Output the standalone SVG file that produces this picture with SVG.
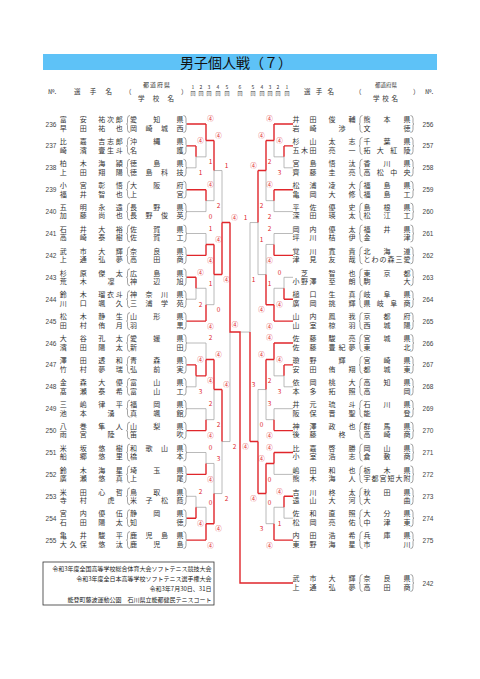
<svg xmlns="http://www.w3.org/2000/svg" xmlns:xlink="http://www.w3.org/1999/xlink" width="480" height="679" viewBox="0 0 480 679">
<style>
text{font-family:"Noto Sans CJK JP","Noto Sans",sans-serif}
.t{font-size:7px;fill:#333}
.m{text-anchor:middle}
.h{font-size:6.5px;fill:#333}
.d{font-size:5px;fill:#333;text-anchor:middle}
.no{font-family:"Liberation Sans",Arial,sans-serif;font-size:6.5px;fill:#444;text-anchor:middle}
.s{font-size:6.5px;fill:#e0262b;text-anchor:middle}
.r{stroke:#e0262b;stroke-width:1.4;fill:none}
.g{stroke:#a8a8a8;stroke-width:0.8;fill:none}
.br{stroke:#666;stroke-width:0.6;fill:none}
.f{font-size:6px;fill:#222;text-anchor:end}
</style>
<defs>
<path id="bL1" class="br" d="M130,-8.5 Q127.5,-8.5 127.5,-5.5 L127.5,-1.5 Q127.5,0 126.5,0 Q127.5,0 127.5,1.5 L127.5,5.5 Q127.5,8.5 130,8.5"/>
<path id="bL2" class="br" d="M183.5,-8.5 Q186,-8.5 186,-5.5 L186,-1.5 Q186,0 187,0 Q186,0 186,1.5 L186,5.5 Q186,8.5 183.5,8.5"/>
<path id="bR1" class="br" d="M362.5,-8.5 Q360,-8.5 360,-5.5 L360,-1.5 Q360,0 359,0 Q360,0 360,1.5 L360,5.5 Q360,8.5 362.5,8.5"/>
<path id="bR2" class="br" d="M410.5,-8.5 Q413,-8.5 413,-5.5 L413,-1.5 Q413,0 414,0 Q413,0 413,1.5 L413,5.5 Q413,8.5 410.5,8.5"/>
</defs>
<rect width="480" height="679" fill="#fff"/>
<g id="title">
<rect x="43" y="54" width="394" height="16" fill="#5ec2f7"/>
<text x="236" y="67.5" class="m" style="font-size:14px;fill:#111">男子個人戦（７）</text>
</g>
<g id="header">
<text class="h" x="48" y="94">№.</text>
<text class="h" x="74" y="94" textLength="38" lengthAdjust="spacing">選手名</text>
<text class="h" x="125" y="94">（</text>
<text class="h" x="143" y="87" textLength="27" lengthAdjust="spacing" style="font-size:6px">都道府県</text>
<text class="h" x="138" y="100.5" textLength="36" lengthAdjust="spacing">学校名</text>
<text class="h" x="181" y="94">）</text>
<text class="d" x="193" y="89">1</text><text class="d" x="193" y="95">回</text>
<text class="d" x="201" y="89">2</text><text class="d" x="201" y="95">回</text>
<text class="d" x="209" y="89">3</text><text class="d" x="209" y="95">回</text>
<text class="d" x="218" y="89">4</text><text class="d" x="218" y="95">回</text>
<text class="d" x="227" y="89">5</text><text class="d" x="227" y="95">回</text>
<text class="d" x="240" y="89">6</text><text class="d" x="240" y="95">回</text>
<text class="d" x="253" y="89">5</text><text class="d" x="253" y="95">回</text>
<text class="d" x="262" y="89">4</text><text class="d" x="262" y="95">回</text>
<text class="d" x="270" y="89">3</text><text class="d" x="270" y="95">回</text>
<text class="d" x="278" y="89">2</text><text class="d" x="278" y="95">回</text>
<text class="d" x="287" y="89">1</text><text class="d" x="287" y="95">回</text>
<text class="h" x="304" y="94" textLength="30" lengthAdjust="spacing">選手名</text>
<text class="h" x="355" y="94">（</text>
<text class="h" x="375" y="87" textLength="22" lengthAdjust="spacing" style="font-size:5.5px">都道府県</text>
<text class="h" x="373" y="100.5" textLength="25" lengthAdjust="spacing">学校名</text>
<text class="h" x="413" y="94">）</text>
<text class="h" x="425" y="94">№.</text>
</g>

<g id="p236" transform="translate(0,124)"><text class="no" x="51" y="2.5">236</text>
<text class="t" x="59.8" y="-1.8" textLength="27">富安</text><text class="t" x="98.2" y="-1.8" textLength="24.6">祐次郎</text>
<text class="t" x="59.8" y="6.8" textLength="27">早田</text><text class="t" x="98.2" y="6.8" textLength="24.6">祐也</text>
<use xlink:href="#bL1"/><use xlink:href="#bL2"/>
<text class="t" x="130" y="-1.8" textLength="53.5">愛知県</text><text class="t" x="130" y="6.8" textLength="53.5">岡崎城西</text></g>

<g id="p237" transform="translate(0,145.9)"><text class="no" x="51" y="2.5">237</text>
<text class="t" x="59.8" y="-1.8" textLength="27">比嘉</text><text class="t" x="98.2" y="-1.8" textLength="24.6">吉志郎</text>
<text class="t" x="59.8" y="6.8" textLength="27">崎濱</text><text class="t" x="98.2" y="6.8" textLength="24.6">壹生斗</text>
<use xlink:href="#bL1"/><use xlink:href="#bL2"/>
<text class="t" x="130" y="-1.8" textLength="53.5">沖縄県</text><text class="t" x="130" y="6.8" textLength="53.5">名護</text></g>

<g id="p238" transform="translate(0,167.8)"><text class="no" x="51" y="2.5">238</text>
<text class="t" x="59.8" y="-1.8" textLength="27">柏木</text><text class="t" x="98.2" y="-1.8" textLength="24.6">海頴</text>
<text class="t" x="59.8" y="6.8" textLength="27">上田</text><text class="t" x="98.2" y="6.8" textLength="24.6">翔陽</text>
<use xlink:href="#bL1"/><use xlink:href="#bL2"/>
<text class="t" x="130" y="-1.8" textLength="53.5">徳島県</text><text class="t" x="130" y="6.8" textLength="53.5">徳島科技</text></g>

<g id="p239" transform="translate(0,189.7)"><text class="no" x="51" y="2.5">239</text>
<text class="t" x="59.8" y="-1.8" textLength="27">小宮</text><text class="t" x="98.2" y="-1.8" textLength="24.6">彰悟</text>
<text class="t" x="59.8" y="6.8" textLength="27">福井</text><text class="t" x="98.2" y="6.8" textLength="24.6">智也</text>
<use xlink:href="#bL1"/><use xlink:href="#bL2"/>
<text class="t" x="130" y="-1.8" textLength="53.5">大阪府</text><text class="t" x="130" y="6.8" textLength="53.5">上宮</text></g>

<g id="p240" transform="translate(0,211.6)"><text class="no" x="51" y="2.5">240</text>
<text class="t" x="59.8" y="-1.8" textLength="27">五明</text><text class="t" x="98.2" y="-1.8" textLength="24.6">永遠</text>
<text class="t" x="59.8" y="6.8" textLength="27">加藤</text><text class="t" x="98.2" y="6.8" textLength="24.6">尚也</text>
<use xlink:href="#bL1"/><use xlink:href="#bL2"/>
<text class="t" x="130" y="-1.8" textLength="53.5">長野県</text><text class="t" x="130" y="6.8" textLength="53.5">長野俊英</text></g>

<g id="p241" transform="translate(0,233.5)"><text class="no" x="51" y="2.5">241</text>
<text class="t" x="59.8" y="-1.8" textLength="27">石井</text><text class="t" x="98.2" y="-1.8" textLength="24.6">大裕</text>
<text class="t" x="59.8" y="6.8" textLength="27">高崎</text><text class="t" x="98.2" y="6.8" textLength="24.6">泰樹</text>
<use xlink:href="#bL1"/><use xlink:href="#bL2"/>
<text class="t" x="130" y="-1.8" textLength="53.5">佐賀県</text><text class="t" x="130" y="6.8" textLength="53.5">佐賀工</text></g>

<g id="p242" transform="translate(0,255.4)"><text class="no" x="51" y="2.5">242</text>
<text class="t" x="59.8" y="-1.8" textLength="27">武市</text><text class="t" x="98.2" y="-1.8" textLength="24.6">大輝</text>
<text class="t" x="59.8" y="6.8" textLength="27">上通</text><text class="t" x="98.2" y="6.8" textLength="24.6">弘夢</text>
<use xlink:href="#bL1"/><use xlink:href="#bL2"/>
<text class="t" x="130" y="-1.8" textLength="53.5">奈良県</text><text class="t" x="130" y="6.8" textLength="53.5">高田商</text></g>

<g id="p243" transform="translate(0,277.3)"><text class="no" x="51" y="2.5">243</text>
<text class="t" x="59.8" y="-1.8" textLength="27">杉原</text><text class="t" x="98.2" y="-1.8" textLength="24.6">傑太</text>
<text class="t" x="59.8" y="6.8" textLength="27">荒木</text><text class="t m" x="111" y="6.8">凜</text>
<use xlink:href="#bL1"/><use xlink:href="#bL2"/>
<text class="t" x="130" y="-1.8" textLength="53.5">広島県</text><text class="t" x="130" y="6.8" textLength="53.5">神辺旭</text></g>

<g id="p244" transform="translate(0,299.2)"><text class="no" x="51" y="2.5">244</text>
<text class="t" x="59.8" y="-1.8" textLength="27">鈴木</text><text class="t" x="98.2" y="-1.8" textLength="24.6">瑠衣斗</text>
<text class="t" x="59.8" y="6.8" textLength="27">川口</text><text class="t" x="98.2" y="6.8" textLength="24.6">颯久</text>
<use xlink:href="#bL1"/><use xlink:href="#bL2"/>
<text class="t" x="130" y="-1.8" textLength="53.5">神奈川県</text><text class="t" x="130" y="6.8" textLength="53.5">三浦学苑</text></g>

<g id="p245" transform="translate(0,321.1)"><text class="no" x="51" y="2.5">245</text>
<text class="t" x="59.8" y="-1.8" textLength="27">松木</text><text class="t" x="98.2" y="-1.8" textLength="24.6">静生</text>
<text class="t" x="59.8" y="6.8" textLength="27">田村</text><text class="t" x="98.2" y="6.8" textLength="24.6">侑月</text>
<use xlink:href="#bL1"/><use xlink:href="#bL2"/>
<text class="t" x="130" y="-1.8" textLength="53.5">山形県</text><text class="t" x="130" y="6.8" textLength="53.5">羽黒</text></g>

<g id="p246" transform="translate(0,343)"><text class="no" x="51" y="2.5">246</text>
<text class="t" x="59.8" y="-1.8" textLength="27">大谷</text><text class="t" x="98.2" y="-1.8" textLength="24.6">孔太</text>
<text class="t" x="59.8" y="6.8" textLength="27">濱田</text><text class="t" x="98.2" y="6.8" textLength="24.6">陽太</text>
<use xlink:href="#bL1"/><use xlink:href="#bL2"/>
<text class="t" x="130" y="-1.8" textLength="53.5">愛媛県</text><text class="t" x="130" y="6.8" textLength="53.5">新田</text></g>

<g id="p247" transform="translate(0,364.9)"><text class="no" x="51" y="2.5">247</text>
<text class="t" x="59.8" y="-1.8" textLength="27">澤田</text><text class="t" x="98.2" y="-1.8" textLength="24.6">透和</text>
<text class="t" x="59.8" y="6.8" textLength="27">竹村</text><text class="t" x="98.2" y="6.8" textLength="24.6">夢瑞</text>
<use xlink:href="#bL1"/><use xlink:href="#bL2"/>
<text class="t" x="130" y="-1.8" textLength="53.5">青森県</text><text class="t" x="130" y="6.8" textLength="53.5">弘前実</text></g>

<g id="p248" transform="translate(0,386.8)"><text class="no" x="51" y="2.5">248</text>
<text class="t" x="59.8" y="-1.8" textLength="27">金森</text><text class="t" x="98.2" y="-1.8" textLength="24.6">大優</text>
<text class="t" x="59.8" y="6.8" textLength="27">髙瀬</text><text class="t" x="98.2" y="6.8" textLength="24.6">泰希</text>
<use xlink:href="#bL1"/><use xlink:href="#bL2"/>
<text class="t" x="130" y="-1.8" textLength="53.5">富山県</text><text class="t" x="130" y="6.8" textLength="53.5">富山工</text></g>

<g id="p249" transform="translate(0,408.7)"><text class="no" x="51" y="2.5">249</text>
<text class="t" x="59.8" y="-1.8" textLength="27">三嶋</text><text class="t" x="98.2" y="-1.8" textLength="24.6">律平</text>
<text class="t" x="59.8" y="6.8" textLength="27">池本</text><text class="t m" x="111" y="6.8">湧</text>
<use xlink:href="#bL1"/><use xlink:href="#bL2"/>
<text class="t" x="130" y="-1.8" textLength="53.5">福岡県</text><text class="t" x="130" y="6.8" textLength="53.5">真颯館</text></g>

<g id="p250" transform="translate(0,430.6)"><text class="no" x="51" y="2.5">250</text>
<text class="t" x="59.8" y="-1.8" textLength="27">八巻</text><text class="t" x="98.2" y="-1.8" textLength="24.6">隼人</text>
<text class="t" x="59.8" y="6.8" textLength="27">雨宮</text><text class="t m" x="111" y="6.8">陸</text>
<use xlink:href="#bL1"/><use xlink:href="#bL2"/>
<text class="t" x="130" y="-1.8" textLength="53.5">山梨県</text><text class="t" x="130" y="6.8" textLength="53.5">笛吹</text></g>

<g id="p251" transform="translate(0,452.5)"><text class="no" x="51" y="2.5">251</text>
<text class="t" x="59.8" y="-1.8" textLength="27">米坂</text><text class="t" x="98.2" y="-1.8" textLength="24.6">悠樹</text>
<text class="t" x="59.8" y="6.8" textLength="27">船郷</text><text class="t" x="98.2" y="6.8" textLength="24.6">悠里</text>
<use xlink:href="#bL1"/><use xlink:href="#bL2"/>
<text class="t" x="130" y="-1.8" textLength="53.5">和歌山県</text><text class="t" x="130" y="6.8" textLength="53.5">橋本</text></g>

<g id="p252" transform="translate(0,474.4)"><text class="no" x="51" y="2.5">252</text>
<text class="t" x="59.8" y="-1.8" textLength="27">鈴木</text><text class="t" x="98.2" y="-1.8" textLength="24.6">海星</text>
<text class="t" x="59.8" y="6.8" textLength="27">廣瀬</text><text class="t" x="98.2" y="6.8" textLength="24.6">悠真</text>
<use xlink:href="#bL1"/><use xlink:href="#bL2"/>
<text class="t" x="130" y="-1.8" textLength="53.5">埼玉県</text><text class="t" x="130" y="6.8" textLength="53.5">上尾</text></g>

<g id="p253" transform="translate(0,496.3)"><text class="no" x="51" y="2.5">253</text>
<text class="t" x="59.8" y="-1.8" textLength="27">米田</text><text class="t" x="98.2" y="-1.8" textLength="24.6">心哲</text>
<text class="t" x="59.8" y="6.8" textLength="27">寺村</text><text class="t m" x="111" y="6.8">虎</text>
<use xlink:href="#bL1"/><use xlink:href="#bL2"/>
<text class="t" x="130" y="-1.8" textLength="53.5">鳥取県</text><text class="t" x="130" y="6.8" textLength="53.5">米子松蔭</text></g>

<g id="p254" transform="translate(0,518.2)"><text class="no" x="51" y="2.5">254</text>
<text class="t" x="59.8" y="-1.8" textLength="27">宮内</text><text class="t" x="98.2" y="-1.8" textLength="24.6">優伍</text>
<text class="t" x="59.8" y="6.8" textLength="27">石田</text><text class="t" x="98.2" y="6.8" textLength="24.6">陽太</text>
<use xlink:href="#bL1"/><use xlink:href="#bL2"/>
<text class="t" x="130" y="-1.8" textLength="53.5">静岡県</text><text class="t" x="130" y="6.8" textLength="53.5">知徳</text></g>

<g id="p255" transform="translate(0,540.1)"><text class="no" x="51" y="2.5">255</text>
<text class="t" x="59.8" y="-1.8" textLength="27">亀井</text><text class="t" x="98.2" y="-1.8" textLength="24.6">駿平</text>
<text class="t" x="59.8" y="6.8" textLength="27">大久保</text><text class="t" x="98.2" y="6.8" textLength="24.6">悠汰</text>
<use xlink:href="#bL1"/><use xlink:href="#bL2"/>
<text class="t" x="130" y="-1.8" textLength="53.5">鹿児島県</text><text class="t" x="130" y="6.8" textLength="53.5">鹿児島</text></g>

<g id="p256" transform="translate(0,124)">
<text class="t" x="292.5" y="-1.8" textLength="24">井田</text><text class="t" x="328.5" y="-1.8" textLength="27">俊輔</text>
<text class="t" x="292.5" y="6.8" textLength="24">岩崎</text><text class="t m" x="342" y="6.8">渉</text>
<use xlink:href="#bR1"/><use xlink:href="#bR2"/>
<text class="t" x="363.5" y="-1.8" textLength="47">熊本県</text><text class="t" x="363.5" y="6.8" textLength="47">文徳</text>
<text class="no" x="428" y="2.5">256</text></g>

<g id="p257" transform="translate(0,145.9)">
<text class="t" x="292.5" y="-1.8" textLength="24">杉山</text><text class="t" x="328.5" y="-1.8" textLength="27">太志</text>
<text class="t" x="292.5" y="6.8" textLength="24">五木田</text><text class="t" x="328.5" y="6.8" textLength="27">亮一</text>
<use xlink:href="#bR1"/><use xlink:href="#bR2"/>
<text class="t" x="363.5" y="-1.8" textLength="47">千葉県</text><text class="t" x="363.5" y="6.8" textLength="47">拓大紅陵</text>
<text class="no" x="428" y="2.5">257</text></g>

<g id="p258" transform="translate(0,167.8)">
<text class="t" x="292.5" y="-1.8" textLength="24">宮島</text><text class="t" x="328.5" y="-1.8" textLength="27">悟汰</text>
<text class="t" x="292.5" y="6.8" textLength="24">齊藤</text><text class="t" x="328.5" y="6.8" textLength="27">圭亮</text>
<use xlink:href="#bR1"/><use xlink:href="#bR2"/>
<text class="t" x="363.5" y="-1.8" textLength="47">香川県</text><text class="t" x="363.5" y="6.8" textLength="47">高松中央</text>
<text class="no" x="428" y="2.5">258</text></g>

<g id="p259" transform="translate(0,189.7)">
<text class="t" x="292.5" y="-1.8" textLength="24">松浦</text><text class="t" x="328.5" y="-1.8" textLength="27">凌大</text>
<text class="t" x="292.5" y="6.8" textLength="24">亀岡</text><text class="t" x="328.5" y="6.8" textLength="27">大修</text>
<use xlink:href="#bR1"/><use xlink:href="#bR2"/>
<text class="t" x="363.5" y="-1.8" textLength="47">福島県</text><text class="t" x="363.5" y="6.8" textLength="47">福島工</text>
<text class="no" x="428" y="2.5">259</text></g>

<g id="p260" transform="translate(0,211.6)">
<text class="t" x="292.5" y="-1.8" textLength="24">平佐</text><text class="t" x="328.5" y="-1.8" textLength="27">優史</text>
<text class="t" x="292.5" y="6.8" textLength="24">深田</text><text class="t" x="328.5" y="6.8" textLength="27">瑛太</text>
<use xlink:href="#bR1"/><use xlink:href="#bR2"/>
<text class="t" x="363.5" y="-1.8" textLength="47">島根県</text><text class="t" x="363.5" y="6.8" textLength="47">松江工</text>
<text class="no" x="428" y="2.5">260</text></g>

<g id="p261" transform="translate(0,233.5)">
<text class="t" x="292.5" y="-1.8" textLength="24">岡内</text><text class="t" x="328.5" y="-1.8" textLength="27">優太</text>
<text class="t" x="292.5" y="6.8" textLength="24">坪川</text><text class="t" x="328.5" y="6.8" textLength="27">桔伊</text>
<use xlink:href="#bR1"/><use xlink:href="#bR2"/>
<text class="t" x="363.5" y="-1.8" textLength="47">福井県</text><text class="t" x="363.5" y="6.8" textLength="47">金津</text>
<text class="no" x="428" y="2.5">261</text></g>

<g id="p262" transform="translate(0,255.4)">
<text class="t" x="292.5" y="-1.8" textLength="24">覚川</text><text class="t" x="328.5" y="-1.8" textLength="27">寛貴</text>
<text class="t" x="292.5" y="6.8" textLength="24">津見</text><text class="t" x="328.5" y="6.8" textLength="27">友哉</text>
<use xlink:href="#bR1"/><use xlink:href="#bR2"/>
<text class="t" x="363.5" y="-1.8" textLength="47">北海道</text><text class="t" x="363.5" y="6.8" textLength="47">とわの森三愛</text>
<text class="no" x="428" y="2.5">262</text></g>

<g id="p263" transform="translate(0,277.3)">
<text class="t m" x="304.5" y="-1.8">芝</text><text class="t" x="328.5" y="-1.8" textLength="27">智也</text>
<text class="t" x="292.5" y="6.8" textLength="24">小野澤</text><text class="t" x="328.5" y="6.8" textLength="27">至朗</text>
<use xlink:href="#bR1"/><use xlink:href="#bR2"/>
<text class="t" x="363.5" y="-1.8" textLength="47">東京都</text><text class="t" x="363.5" y="6.8" textLength="47">駒大</text>
<text class="no" x="428" y="2.5">263</text></g>

<g id="p264" transform="translate(0,299.2)">
<text class="t" x="292.5" y="-1.8" textLength="24">槌口</text><text class="t" x="328.5" y="-1.8" textLength="27">生真</text>
<text class="t" x="292.5" y="6.8" textLength="24">廣岡</text><text class="t" x="328.5" y="6.8" textLength="27">挑輝</text>
<use xlink:href="#bR1"/><use xlink:href="#bR2"/>
<text class="t" x="363.5" y="-1.8" textLength="47">岐阜県</text><text class="t" x="363.5" y="6.8" textLength="47">県岐阜商</text>
<text class="no" x="428" y="2.5">264</text></g>

<g id="p265" transform="translate(0,321.1)">
<text class="t" x="292.5" y="-1.8" textLength="24">山内</text><text class="t" x="328.5" y="-1.8" textLength="27">鳳我</text>
<text class="t" x="292.5" y="6.8" textLength="24">山室</text><text class="t" x="328.5" y="6.8" textLength="27">椋羽</text>
<use xlink:href="#bR1"/><use xlink:href="#bR2"/>
<text class="t" x="363.5" y="-1.8" textLength="47">京都府</text><text class="t" x="363.5" y="6.8" textLength="47">西城陽</text>
<text class="no" x="428" y="2.5">265</text></g>

<g id="p266" transform="translate(0,343)">
<text class="t" x="292.5" y="-1.8" textLength="24">佐藤</text><text class="t" x="328.5" y="-1.8" textLength="27">駿亮</text>
<text class="t" x="292.5" y="6.8" textLength="24">佐藤</text><text class="t" x="328.5" y="6.8" textLength="27">豊紀夢</text>
<use xlink:href="#bR1"/><use xlink:href="#bR2"/>
<text class="t" x="363.5" y="-1.8" textLength="47">宮城県</text><text class="t" x="363.5" y="6.8" textLength="47">東北</text>
<text class="no" x="428" y="2.5">266</text></g>

<g id="p267" transform="translate(0,364.9)">
<text class="t" x="292.5" y="-1.8" textLength="24">瓊野</text><text class="t m" x="342" y="-1.8">輝</text>
<text class="t" x="292.5" y="6.8" textLength="24">安田</text><text class="t" x="328.5" y="6.8" textLength="27">侑翔</text>
<use xlink:href="#bR1"/><use xlink:href="#bR2"/>
<text class="t" x="363.5" y="-1.8" textLength="47">宮崎県</text><text class="t" x="363.5" y="6.8" textLength="47">都城東</text>
<text class="no" x="428" y="2.5">267</text></g>

<g id="p268" transform="translate(0,386.8)">
<text class="t" x="292.5" y="-1.8" textLength="24">依岡</text><text class="t" x="328.5" y="-1.8" textLength="27">桃大</text>
<text class="t" x="292.5" y="6.8" textLength="24">本多</text><text class="t" x="328.5" y="6.8" textLength="27">拓照</text>
<use xlink:href="#bR1"/><use xlink:href="#bR2"/>
<text class="t" x="363.5" y="-1.8" textLength="47">高知県</text><text class="t" x="363.5" y="6.8" textLength="47">高岡</text>
<text class="no" x="428" y="2.5">268</text></g>

<g id="p269" transform="translate(0,408.7)">
<text class="t" x="292.5" y="-1.8" textLength="24">井元</text><text class="t" x="328.5" y="-1.8" textLength="27">琉斗</text>
<text class="t" x="292.5" y="6.8" textLength="24">阪保</text><text class="t" x="328.5" y="6.8" textLength="27">晋聖</text>
<use xlink:href="#bR1"/><use xlink:href="#bR2"/>
<text class="t" x="363.5" y="-1.8" textLength="47">石川県</text><text class="t" x="363.5" y="6.8" textLength="47">能登</text>
<text class="no" x="428" y="2.5">269</text></g>

<g id="p270" transform="translate(0,430.6)">
<text class="t" x="292.5" y="-1.8" textLength="24">神澤</text><text class="t" x="328.5" y="-1.8" textLength="27">政也</text>
<text class="t" x="292.5" y="6.8" textLength="24">後藤</text><text class="t m" x="342" y="6.8">柊</text>
<use xlink:href="#bR1"/><use xlink:href="#bR2"/>
<text class="t" x="363.5" y="-1.8" textLength="47">群馬県</text><text class="t" x="363.5" y="6.8" textLength="47">高崎商</text>
<text class="no" x="428" y="2.5">270</text></g>

<g id="p271" transform="translate(0,452.5)">
<text class="t" x="292.5" y="-1.8" textLength="24">比嘉</text><text class="t" x="328.5" y="-1.8" textLength="27">啓勝</text>
<text class="t" x="292.5" y="6.8" textLength="24">小室</text><text class="t" x="328.5" y="6.8" textLength="27">浩志</text>
<use xlink:href="#bR1"/><use xlink:href="#bR2"/>
<text class="t" x="363.5" y="-1.8" textLength="47">岡山県</text><text class="t" x="363.5" y="6.8" textLength="47">倉敷商</text>
<text class="no" x="428" y="2.5">271</text></g>

<g id="p272" transform="translate(0,474.4)">
<text class="t" x="292.5" y="-1.8" textLength="24">嶋田</text><text class="t" x="328.5" y="-1.8" textLength="27">和也</text>
<text class="t" x="292.5" y="6.8" textLength="24">熊木</text><text class="t" x="328.5" y="6.8" textLength="27">海人</text>
<use xlink:href="#bR1"/><use xlink:href="#bR2"/>
<text class="t" x="363.5" y="-1.8" textLength="47">栃木県</text><text class="t" x="363.5" y="6.8" textLength="47">宇都宮短大附</text>
<text class="no" x="428" y="2.5">272</text></g>

<g id="p273" transform="translate(0,496.3)">
<text class="t" x="292.5" y="-1.8" textLength="24">吉川</text><text class="t" x="328.5" y="-1.8" textLength="27">柊太</text>
<text class="t" x="292.5" y="6.8" textLength="24">遠山</text><text class="t" x="328.5" y="6.8" textLength="27">大河</text>
<use xlink:href="#bR1"/><use xlink:href="#bR2"/>
<text class="t" x="363.5" y="-1.8" textLength="47">秋田県</text><text class="t" x="363.5" y="6.8" textLength="47">大曲</text>
<text class="no" x="428" y="2.5">273</text></g>

<g id="p274" transform="translate(0,518.2)">
<text class="t" x="292.5" y="-1.8" textLength="24">佐和</text><text class="t" x="328.5" y="-1.8" textLength="27">直照</text>
<text class="t" x="292.5" y="6.8" textLength="24">松岡</text><text class="t" x="328.5" y="6.8" textLength="27">亮佑</text>
<use xlink:href="#bR1"/><use xlink:href="#bR2"/>
<text class="t" x="363.5" y="-1.8" textLength="47">大分県</text><text class="t" x="363.5" y="6.8" textLength="47">中津東</text>
<text class="no" x="428" y="2.5">274</text></g>

<g id="p275" transform="translate(0,540.1)">
<text class="t" x="292.5" y="-1.8" textLength="24">内田</text><text class="t" x="328.5" y="-1.8" textLength="27">浩希</text>
<text class="t" x="292.5" y="6.8" textLength="24">東野</text><text class="t" x="328.5" y="6.8" textLength="27">海星</text>
<use xlink:href="#bR1"/><use xlink:href="#bR2"/>
<text class="t" x="363.5" y="-1.8" textLength="47">兵庫県</text><text class="t" x="363.5" y="6.8" textLength="47">市川</text>
<text class="no" x="428" y="2.5">275</text></g>

<g id="winner242" transform="translate(0,583)">
<text class="t" x="292.5" y="-1.8" textLength="24">武市</text><text class="t" x="328.5" y="-1.8" textLength="27">大輝</text>
<text class="t" x="292.5" y="6.8" textLength="24">上通</text><text class="t" x="328.5" y="6.8" textLength="27">弘夢</text>
<use xlink:href="#bR1"/><use xlink:href="#bR2"/>
<text class="t" x="363.5" y="-1.8" textLength="47">奈良県</text><text class="t" x="363.5" y="6.8" textLength="47">高田商</text>
<text class="no" x="428" y="2.5">242</text></g>

<g id="connectors">
<path class="g" d="M187,167.8H196M187,211.6H206M187,233.5H206M187,299.2H196M187,343H206M187,386.8H196M187,408.7H206M187,452.5H206M187,496.3H196
M196,156.85V167.8M196,288.25V299.2M196,375.85V386.8M196,496.3V507.25
M196,156.85H206M196,288.25H206M196,507.25H206
M206,140.43V156.85M206,200.65V211.6M206,233.5V244.45M206,288.25V304.68M206,343V359.43M206,408.7V419.65M206,452.5V463.45M206,507.25V523.68
M206,200.65H214M206,304.68H214M206,419.65H214M206,463.45H214
M214,170.54V200.65M214,274.56V304.68M214,389.54V419.65M214,463.45V493.56
M214,170.54H222M214,493.56H222
M222,170.54V222.55M222,441.55V493.56M222,441.55H230M230,332.05V441.55"/>
<path class="g" d="M293,167.8H284M293,211.6H274M293,233.5H274M293,277.3H284M293,386.8H284M293,408.7H274M293,474.4H274M293,518.2H284
M284,156.85V167.8M284,277.3V288.25M284,375.85V386.8M284,507.25V518.2
M284,156.85H274M284,288.25H274M284,375.85H274M284,507.25H274
M274,140.43V156.85M274,200.65V211.6M274,233.5V244.45M274,288.25V304.68M274,359.43V375.85M274,408.7V419.65M274,463.45V474.4M274,507.25V523.68
M274,200.65H266M274,244.45H266M274,419.65H266M274,523.68H266
M266,170.54V200.65M266,244.45V274.56M266,389.54V419.65M266,493.56V523.68
M266,274.56H258M266,389.54H258
M258,222.55V274.56M258,389.54V441.55M258,222.55H250M250,222.55V332.05M250,332.05H240"/>
<path class="r" d="M187,124H206M187,145.9H196M187,189.7H206M187,255.4H206M187,277.3H196M187,321.1H206M187,364.9H196M187,430.6H206M187,474.4H206M187,518.2H196M187,540.1H206
M196,145.9V156.85M196,277.3V288.25M196,364.9V375.85M196,507.25V518.2M196,375.85H206
M206,124V140.43M206,189.7V200.65M206,244.45V255.4M206,304.68V321.1M206,359.43V375.85M206,419.65V430.6M206,463.45V474.4M206,523.68V540.1
M206,140.43H214M206,244.45H214M206,359.43H214M206,523.68H214
M214,140.43V170.54M214,244.45V274.56M214,359.43V389.54M214,493.56V523.68
M214,274.56H222M214,389.54H222
M222,222.55V274.56M222,389.54V441.55M222,222.55H230
M230,222.55V332.05H240V583H293"/>
<path class="r" d="M293,124H274M293,145.9H284M293,189.7H274M293,255.4H274M293,299.2H284M293,321.1H274M293,343H274M293,364.9H284M293,430.6H274M293,452.5H274M293,496.3H284M293,540.1H274
M284,145.9V156.85M284,288.25V299.2M284,364.9V375.85M284,496.3V507.25
M274,124V140.43M274,189.7V200.65M274,244.45V255.4M274,304.68V321.1M274,343V359.43M274,419.65V430.6M274,452.5V463.45M274,523.68V540.1
M274,140.43H266M274,304.68H266M274,359.43H266M274,463.45H266
M266,140.43V170.54M266,274.56V304.68M266,359.43V389.54M266,463.45V493.56
M266,170.54H258M266,493.56H258
M258,170.54V222.55M258,441.55V493.56M258,441.55H250M250,332.05V441.55"/>
</g>

<g id="scores">
<text class="s" x="200.5" y="143.2">④</text><text class="s" x="200.5" y="175.2">1</text>
<text class="s" x="200.5" y="274.6">④</text><text class="s" x="200.5" y="306.6">2</text>
<text class="s" x="200.5" y="362.2">④</text><text class="s" x="200.5" y="394.2">3</text>
<text class="s" x="200.5" y="493.6">2</text><text class="s" x="200.5" y="525.6">④</text>
<text class="s" x="210.5" y="121.3">④</text><text class="s" x="210.5" y="164.2">1</text>
<text class="s" x="210.5" y="187">④</text><text class="s" x="210.5" y="219">0</text>
<text class="s" x="210.5" y="230.8">1</text><text class="s" x="210.5" y="262.8">④</text>
<text class="s" x="210.5" y="285.5">1</text><text class="s" x="210.5" y="328.5">④</text>
<text class="s" x="210.5" y="340.3">2</text><text class="s" x="210.5" y="383.2">④</text>
<text class="s" x="210.5" y="406">2</text><text class="s" x="210.5" y="438">④</text>
<text class="s" x="210.5" y="449.8">0</text><text class="s" x="210.5" y="481.8">④</text>
<text class="s" x="210.5" y="504.5">0</text><text class="s" x="210.5" y="547.5">④</text>
<text class="s" x="218.5" y="137.7">④</text><text class="s" x="218.5" y="208">2</text>
<text class="s" x="218.5" y="241.7">④</text><text class="s" x="218.5" y="312.1">0</text>
<text class="s" x="218.5" y="356.7">④</text><text class="s" x="218.5" y="427">2</text>
<text class="s" x="218.5" y="460.7">3</text><text class="s" x="218.5" y="531.1">④</text>
<text class="s" x="226.5" y="167.8">1</text><text class="s" x="226.5" y="282">④</text>
<text class="s" x="226.5" y="386.8">④</text><text class="s" x="226.5" y="501">2</text>
<text class="s" x="234.5" y="219.9">④</text><text class="s" x="234.5" y="449">2</text>

<text class="s" x="279.5" y="143.2">④</text><text class="s" x="279.5" y="175.2">3</text>
<text class="s" x="279.5" y="274.6">0</text><text class="s" x="279.5" y="306.6">④</text>
<text class="s" x="279.5" y="362.2">④</text><text class="s" x="279.5" y="394.2">3</text>
<text class="s" x="279.5" y="493.6">④</text><text class="s" x="279.5" y="525.6">1</text>
<text class="s" x="269.5" y="121.3">④</text><text class="s" x="269.5" y="164.2">2</text>
<text class="s" x="269.5" y="187">④</text><text class="s" x="269.5" y="219">2</text>
<text class="s" x="269.5" y="230.8">2</text><text class="s" x="269.5" y="262.8">④</text>
<text class="s" x="269.5" y="285.5">1</text><text class="s" x="269.5" y="328.5">④</text>
<text class="s" x="269.5" y="340.3">④</text><text class="s" x="269.5" y="383.2">2</text>
<text class="s" x="269.5" y="406">3</text><text class="s" x="269.5" y="438">④</text>
<text class="s" x="269.5" y="449.8">④</text><text class="s" x="269.5" y="481.8">0</text>
<text class="s" x="269.5" y="504.5">0</text><text class="s" x="269.5" y="547.5">④</text>
<text class="s" x="261.5" y="137.7">④</text><text class="s" x="261.5" y="208">2</text>
<text class="s" x="261.5" y="241.7">1</text><text class="s" x="261.5" y="312.1">④</text>
<text class="s" x="261.5" y="356.7">④</text><text class="s" x="261.5" y="427">0</text>
<text class="s" x="261.5" y="460.7">④</text><text class="s" x="261.5" y="531.1">3</text>
<text class="s" x="253.5" y="167.8">④</text><text class="s" x="253.5" y="282">1</text>
<text class="s" x="253.5" y="386.8">3</text><text class="s" x="253.5" y="501">④</text>
<text class="s" x="245.5" y="219.9">1</text><text class="s" x="245.5" y="449">④</text>
<text class="s" x="235" y="327">④</text>
</g>

<g id="footer">
<rect x="43" y="562" width="171" height="43" fill="none" stroke="#333" stroke-width="0.8"/>
<text class="f" x="211.5" y="570.5">令和3年度全国高等学校総合体育大会ソフトテニス競技大会</text>
<text class="f" x="211.5" y="580.5">令和3年度全日本高等学校ソフトテニス選手権大会</text>
<text class="f" x="211.5" y="591">令和3年7月30日、31日</text>
<text class="f" x="211.5" y="601.5">能登町藤波運動公園　石川県立能都健民テニスコート</text>
</g>
</svg>
